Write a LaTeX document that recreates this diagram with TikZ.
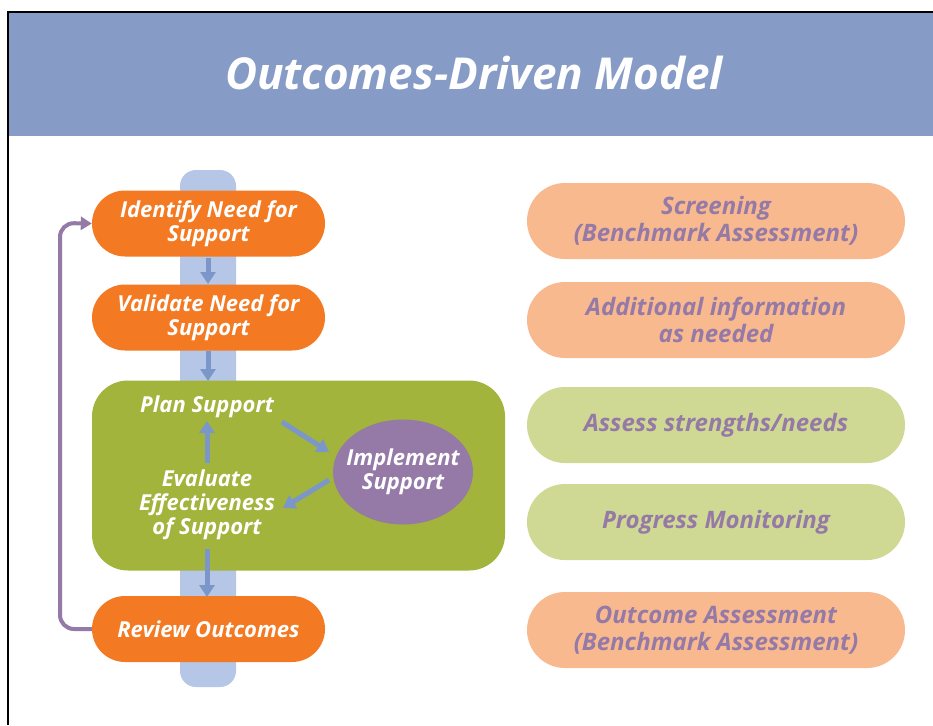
\documentclass[tikz,border=0pt]{standalone}
\usepackage{fontspec}
\setmainfont{Open Sans}
\usetikzlibrary{arrows.meta,shapes.geometric,shapes.misc}
\definecolor{headblue}{HTML}{869BC5}
\definecolor{barblue}{HTML}{B6C6E6}
\definecolor{arrblue}{HTML}{7B97C9}
\definecolor{orange}{HTML}{F37A23}
\definecolor{lorange}{HTML}{F8B98F}
\definecolor{green}{HTML}{A2B43C}
\definecolor{lgreen}{HTML}{D0D993}
\definecolor{purple}{HTML}{9579A6}
\tikzset{
  x=1pt,y=-1pt,
  txt/.style={font=\fontsize{22}{24}\selectfont\bfseries\itshape, align=center, inner sep=0pt},
  rtxt/.style={font=\fontsize{24}{26.5}\selectfont\bfseries\itshape, align=center, inner sep=0pt},
  opill/.style={txt, fill=orange, text=white, rounded rectangle, minimum width=233pt, minimum height=66pt},
  rpill/.style={rtxt, text=purple, rounded rectangle, minimum width=378pt, minimum height=76pt},
  flow/.style={arrblue, line width=5pt, -{Triangle[length=12pt,width=15pt]}},
}
\begin{document}
\begin{tikzpicture}
\useasboundingbox (0,0) rectangle (933,725);
\fill[white] (0,0) rectangle (933,725);
% header
\fill[headblue] (8,12) rectangle (933,136);
\draw[black, line width=1.5pt] (8,725) -- (8,12) -- (933,12);
\node[font=\fontsize{44}{48}\selectfont\bfseries\itshape, text=white] (title) at (474,73) {Outcomes-Driven Model};
% blue bar
\fill[barblue, rounded corners=16pt] (180,170) rectangle (236,687);
% green box
\node[fill=green, rounded corners=36pt, minimum width=413pt, minimum height=190pt, inner sep=0pt] (gbox) at (298.5,475.5) {};
% orange pills
\node[opill] (identify) at (208.5,223.5) {Identify Need for\\Support};
\node[opill] (validate) at (208.5,317.5) {Validate Need for\\Support};
\node[opill] (review) at (208.5,629) {Review Outcomes};
% inner texts
\node[txt, text=white] (plan) at (207,407) {Plan Support};
\node[txt, text=white] (evaluate) at (207,505) {Evaluate\\Effectiveness\\of Support};
\node[ellipse, fill=purple, minimum width=140pt, minimum height=105pt, inner sep=0pt] (implement) at (403,472) {};
\node[txt, text=white] (implementtxt) at (implement.center) {Implement\\Support};
% flow arrows
\coordinate (a1s) at (208,258); \coordinate (a1e) at (208,284);
\coordinate (a2s) at (208,351); \coordinate (a2e) at (208,381);
\coordinate (a3s) at (207,463); \coordinate (a3e) at (207,421);
\coordinate (a4s) at (282,422); \coordinate (a4e) at (329,452);
\coordinate (a5s) at (329,480); \coordinate (a5e) at (283,508);
\coordinate (a6s) at (207,549); \coordinate (a6e) at (207,597);
\draw[flow] (a1s) -- (a1e);
\draw[flow] (a2s) -- (a2e);
\draw[flow] (a3s) -- (a3e);
\draw[flow] (a4s) -- (a4e);
\draw[flow] (a5s) -- (a5e);
\draw[flow] (a6s) -- (a6e);
% loop back
\draw[purple, line width=4pt, rounded corners=14pt, -{Triangle[length=11pt,width=13pt]}]
  (review.west) -- (60,629) -- (60,223) -- (identify.west);
% right pills
\node[rpill, fill=lorange] (screen) at (716,221) {Screening\\(Benchmark Assessment)};
\node[rpill, fill=lorange] (addl) at (716,320) {Additional information\\as needed};
\node[rpill, fill=lgreen] (assess) at (716,425) {Assess strengths/needs};
\node[rpill, fill=lgreen] (progress) at (716,522) {Progress Monitoring};
\node[rpill, fill=lorange] (outcome) at (716,630) {Outcome Assessment\\(Benchmark Assessment)};
\end{tikzpicture}
\end{document}
